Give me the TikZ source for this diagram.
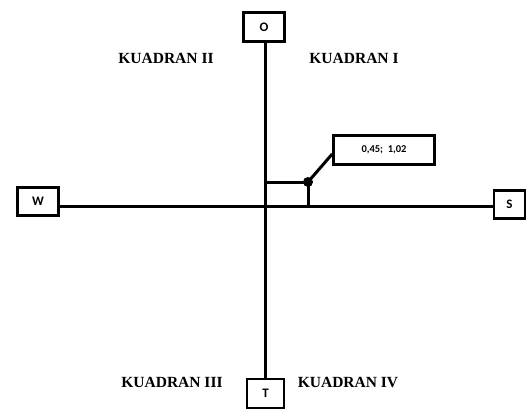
\documentclass[tikz,border=0pt]{standalone}
\usepackage{fontspec}
\setmainfont{Liberation Serif}
\newfontfamily\boxfont{Carlito}
\begin{document}
\begin{tikzpicture}[x=1pt,y=-1pt,
  axis/.style={line width=3pt},
  dirbox/.style={draw,line width=2.6pt,minimum width=#1,inner sep=0pt,font=\boxfont\bfseries\fontsize{13}{14}\selectfont},
  quad/.style={font=\bfseries\fontsize{15.5}{17}\selectfont},
  ptbox/.style={draw,line width=2.6pt,minimum width=101pt,minimum height=29pt,inner sep=0pt,font=\boxfont\bfseries\fontsize{10.5}{12}\selectfont}]
\useasboundingbox (0,0) rectangle (528,408);
\node[dirbox=41pt,minimum height=29pt] (O) at (264,27) {O};
\node[dirbox=37pt,minimum height=29pt] (T) at (265.5,393.5) {T};
\node[dirbox=41pt,minimum height=28pt] (W) at (38,201.5) {W};
\node[dirbox=31pt,minimum height=28pt] (S) at (509.5,204.5) {S};
\coordinate (C) at (265,206);
\draw[axis] (O.south -| C) -- (T.north -| C);
\draw[axis] (W.east |- C) -- (S.west |- C);
\node[ptbox] (P) at (384,150) {0,45;\ \ 1,02};
\coordinate (D) at (308,182);
\coordinate (Dy) at (265,182);
\coordinate (Dx) at (308,206);
\draw[axis] (Dy) -- (D) -- (Dx);
\draw[axis] (D) -- (P.south west |- 0,154);
\fill (D) circle (5pt);
\node[quad] (Q2) at (166,58) {KUADRAN II};
\node[quad] (Q1) at (354,58) {KUADRAN I};
\node[quad] (Q3) at (172,382) {KUADRAN III};
\node[quad] (Q4) at (348,382) {KUADRAN IV};
\end{tikzpicture}
\end{document}
